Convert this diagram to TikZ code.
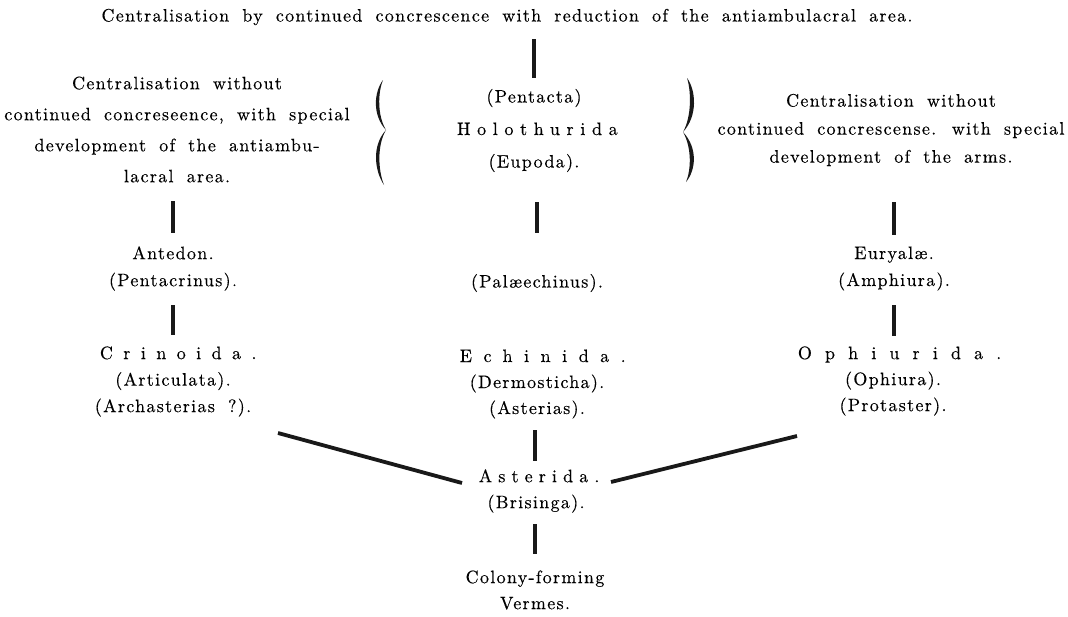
\documentclass[tikz,border=0pt]{standalone}
\usepackage{fontspec}
\setmainfont{lmroman10-regular}[Extension=.otf, FakeBold=0.3, WordSpace=1.8]
\newcommand\spc[2]{{\addfontfeatures{LetterSpace=#1}#2\kern-0.#1em}}
\tikzset{
  txt/.style={inner sep=0pt, align=center, text=black,
    font=\fontsize{18}{#1}\selectfont\addfontfeatures{LetterSpace=7.3}},
  txt/.default=28,
  bar/.style={line width=4.5pt, draw=black!90},
  link/.style={line width=3.8pt, draw=black!90},
  bracefill/.style={fill=black!90, draw=none}
}
\begin{document}
\begin{tikzpicture}[x=1pt,y=-1pt]
\useasboundingbox (0,0) rectangle (1068,616);
% texts
\node[txt] (top) at (507,17) {Centralisation by continued concrescence with reduction of the antiambulacral area.};
\node[txt=31] (left) at (177,129.5) {Centralisation without\\continued concreseence, with special\\development of the antiambu-\\lacral area.};
\node[txt=32.5] (hol) at (534,130.5) {(Pentacta)\\\spc{37}{Holothurida}\\(Eupoda).};
\node[txt=28] (right) at (891,130) {Centralisation without\\continued concrescense. with special\\development of the arms.};
\node[txt=27] (ant) at (173,268.5) {Antedon.\\(Pentacrinus).};
\node[txt] (pal) at (537,283) {(Palæechinus).};
\node[txt=27] (eury) at (894,268.5) {Euryalæ.\\(Amphiura).};
\node[txt=26.5] (crin) at (173,381.5) {\spc{58}{Crinoida.}\\(Articulata).\\(Archasterias ?).};
\node[txt=26] (echin) at (537,384) {\spc{64}{Echinida.}\\(Dermosticha).\\(Asterias).};
\node[txt=26] (ophi) at (893,381) {\spc{73}{Ophiurida.}\\(Ophiura).\\(Protaster).};
\node[txt=26] (aster) at (536,491) {\spc{34}{Asterida.}\\(Brisinga).};
\node[txt=26] (col) at (535,590) {Colony-forming\\Vermes.};
% vertical bars
\draw[bar, shorten <=22pt, shorten >=52.5pt] (top.center -| hol.center) -- (hol.center);
\draw[bar, shorten <=71.5pt, shorten >=35.5pt] (left.center -| ant.center) -- (ant.center);
\draw[bar, shorten <=71.5pt, shorten >=50pt] (hol.center -| pal.center) -- (pal.center);
\draw[bar, shorten <=72pt, shorten >=33.5pt] (right.center -| eury.center) -- (eury.center);
\draw[bar, shorten <=36.5pt, shorten >=46.5pt] (ant.center) -- (crin.center);
\draw[bar, shorten <=36.5pt, shorten >=45pt] (eury.center) -- (eury.center |- ophi.center);
\draw[bar, shorten <=46pt, shorten >=30pt] (echin.center -| col.center) -- (aster.center -| col.center);
\draw[bar, shorten <=33pt, shorten >=36pt] (aster.center -| col.center) -- (col.center);
% diagonal links
\draw[link] ([shift={(105,51.5)}]crin.center) -- ([shift={(-74,-8)}]aster.center);
\draw[link] ([shift={(75,-9)}]aster.center) -- ([shift={(-96,55)}]ophi.center);
% braces
\fill[bracefill] (383,80) .. controls (374,92) and (372,115) .. (386,130)
  .. controls (377,115) and (378,92) .. (383,80);
\fill[bracefill] (386,130) .. controls (372,145) and (374,170) .. (384,185)
  .. controls (378,170) and (377,145) .. (386,130);
\fill[bracefill] (687,78) .. controls (696,90) and (698,116) .. (683,132)
  .. controls (692,116) and (691,90) .. (687,78);
\fill[bracefill] (683,132) .. controls (698,148) and (696,170) .. (686,182)
  .. controls (691,170) and (692,148) .. (683,132);
\end{tikzpicture}
\end{document}
